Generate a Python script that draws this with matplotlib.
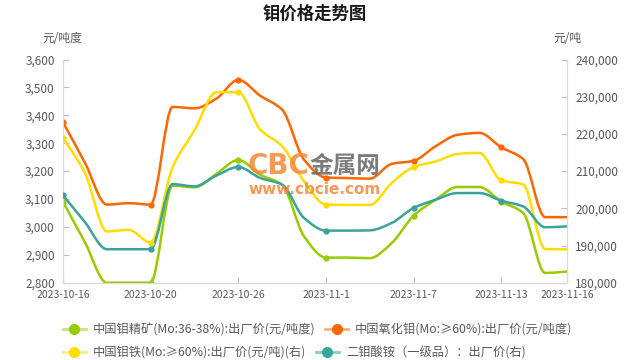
import numpy as np
import matplotlib
matplotlib.use('Agg')
import matplotlib.pyplot as plt
from matplotlib.path import Path
from matplotlib.patches import PathPatch
from matplotlib.lines import Line2D
from matplotlib.ticker import FuncFormatter

plt.rcParams['font.family'] = ['Noto Sans CJK SC', 'DejaVu Sans']

# --- 数据 --------------------------------------------------------------------
dates = ['2023-10-16', '2023-10-17', '2023-10-18', '2023-10-19', '2023-10-20',
         '2023-10-23', '2023-10-24', '2023-10-25', '2023-10-26', '2023-10-27',
         '2023-10-30', '2023-10-31', '2023-11-1', '2023-11-2', '2023-11-3',
         '2023-11-6', '2023-11-7', '2023-11-8', '2023-11-9', '2023-11-10',
         '2023-11-13', '2023-11-14', '2023-11-15', '2023-11-16']
tick_dates = ['2023-10-16', '2023-10-20', '2023-10-26', '2023-11-1',
              '2023-11-7', '2023-11-13', '2023-11-16']

# 左轴 (元/吨度)
jingkuang = [3090, 2945, 2800, 2800, 2800, 3148, 3142, 3190, 3240, 3187, 3151, 2966,
             2890, 2890, 2888, 2942, 3040, 3097, 3143, 3143, 3091, 3050, 2835, 2840]
yanghua = [3375, 3230, 3080, 3085, 3080, 3430, 3425, 3460, 3527, 3470, 3420, 3241,
           3177, 3175, 3173, 3226, 3237, 3289, 3330, 3337, 3285, 3243, 3035, 3035]
# 右轴 (元/吨)
motie = [219000, 209500, 193800, 194200, 190800, 211000, 221000, 231200, 231200,
         221150, 216700, 207250, 201000, 200900, 200900, 206800, 211100, 212600,
         214600, 214900, 207500, 206400, 189060, 188960]
suanan = [203500, 196300, 189000, 189000, 189000, 206500, 205900, 208800, 211100,
          208160, 206360, 197400, 194000, 194000, 194070, 196060, 200100, 202300,
          204100, 204100, 202060, 200500, 194900, 195150]

labels = ['中国钼精矿(Mo:36-38%):出厂价(元/吨度)', '中国氧化钼(Mo:≥60%):出厂价(元/吨度)',
          '中国钼铁(Mo:≥60%):出厂价(元/吨)(右)', '二钼酸铵（一级品）：出厂价(右)']
colors = ['#99CC00', '#FF6600', '#FFDD00', '#3AA39A']
light = ['#C8E27A', '#FFB07A', '#FFEC80', '#8CCBC4']
marker_idx = [0, 4, 8, 12, 16, 20]
GRAY = '#595959'
AXC = '#D9D9D9'


def smooth_line(ax, y, color, zorder=3):
    # 单调三次平滑（PCHIP 切线）-> Bezier 曲线
    y = np.asarray(y, dtype=float)
    x = np.arange(len(y), dtype=float)
    d = np.diff(y)
    m = np.zeros_like(y)
    m[0], m[-1] = d[0], d[-1]
    for k in range(1, len(y) - 1):
        if d[k - 1] * d[k] > 0:
            m[k] = 2.0 / (1.0 / d[k - 1] + 1.0 / d[k])
    verts, codes = [(x[0], y[0])], [Path.MOVETO]
    for i in range(len(y) - 1):
        verts += [(x[i] + 1 / 3, y[i] + m[i] / 3),
                  (x[i + 1] - 1 / 3, y[i + 1] - m[i + 1] / 3),
                  (x[i + 1], y[i + 1])]
        codes += [Path.CURVE4] * 3
    ax.add_patch(PathPatch(Path(verts, codes), fill=False, edgecolor=color,
                           lw=1.8, zorder=zorder, capstyle='round', joinstyle='round'))
    ax.plot(x[marker_idx], y[marker_idx], 'o', color=color, ms=3.5, zorder=zorder + 1)


fig = plt.figure(figsize=(6.3, 3.6), dpi=100)
ax = fig.add_axes([0.1, 0.2147, 0.8, 0.62])
ax2 = ax.twinx()

smooth_line(ax, jingkuang, colors[0])
smooth_line(ax, yanghua, colors[1])
smooth_line(ax2, motie, colors[2])
smooth_line(ax2, suanan, colors[3])

ax.set_xlim(0, len(dates) - 1)
ax.set_ylim(2800, 3600)
ax.set_yticks(np.arange(2800, 3601, 100))
ax2.set_ylim(180000, 240000)
ax2.set_yticks(np.arange(180000, 240001, 10000))
fmt = FuncFormatter(lambda v, p: f'{int(v):,}')
ax.yaxis.set_major_formatter(fmt)
ax2.yaxis.set_major_formatter(fmt)
ax.set_xticks([dates.index(d) for d in tick_dates])
ax.set_xticklabels(tick_dates)

for a in (ax, ax2):
    for s in a.spines.values():
        s.set_color(AXC)
    a.spines['top'].set_visible(False)
    a.tick_params(direction='in', length=4, color='#BFBFBF', labelcolor=GRAY,
                  labelsize=8.5, pad=6)
ax.tick_params(axis='x', labelsize=7.5, pad=5)

# 标题与单位
fig.text(0.5, 0.961, '钼价格走势图', ha='center', va='center', fontsize=12.5,
         fontweight='bold', color='#1A1A1A')
fig.text(62 / 630, 1 - 38 / 360, '元/吨度', ha='center', va='center', fontsize=8.5, color=GRAY)
fig.text(567 / 630, 1 - 38 / 360, '元/吨', ha='center', va='center', fontsize=8.5, color=GRAY)

# 水印
fig.text(248 / 630, 1 - 166 / 360, 'CBC', ha='left', va='center', fontsize=20,
         fontweight='bold', color='#F5883A', alpha=0.85, family='DejaVu Sans', zorder=10)
fig.text(309 / 630, 1 - 166 / 360, '金属网', ha='left', va='center', fontsize=17,
         fontweight='bold', color='#6E6E6E', alpha=0.9, zorder=10)
fig.text(248 / 630, 1 - 190 / 360, 'www.cbcie.com', ha='left', va='center', fontsize=11,
         fontweight='bold', color='#F5883A', alpha=0.85, family='DejaVu Sans', zorder=10)

# 图例（两行）
handles = [Line2D([], [], color=light[i], lw=2, marker='o', ms=7,
                  markerfacecolor=colors[i], markeredgecolor=colors[i]) for i in range(4)]
for row, yy in ((0, 330), (1, 352.5)):
    i0 = row * 2
    fig.legend(handles[i0:i0 + 2], labels[i0:i0 + 2], loc='center left',
               bbox_to_anchor=(63 / 630, 1 - yy / 360), ncol=2, frameon=False,
               fontsize=8.8, handlelength=1.88, handletextpad=0.57, columnspacing=0.8,
               borderpad=0, borderaxespad=0, labelcolor=GRAY)

fig.savefig('out.png', dpi=100)
